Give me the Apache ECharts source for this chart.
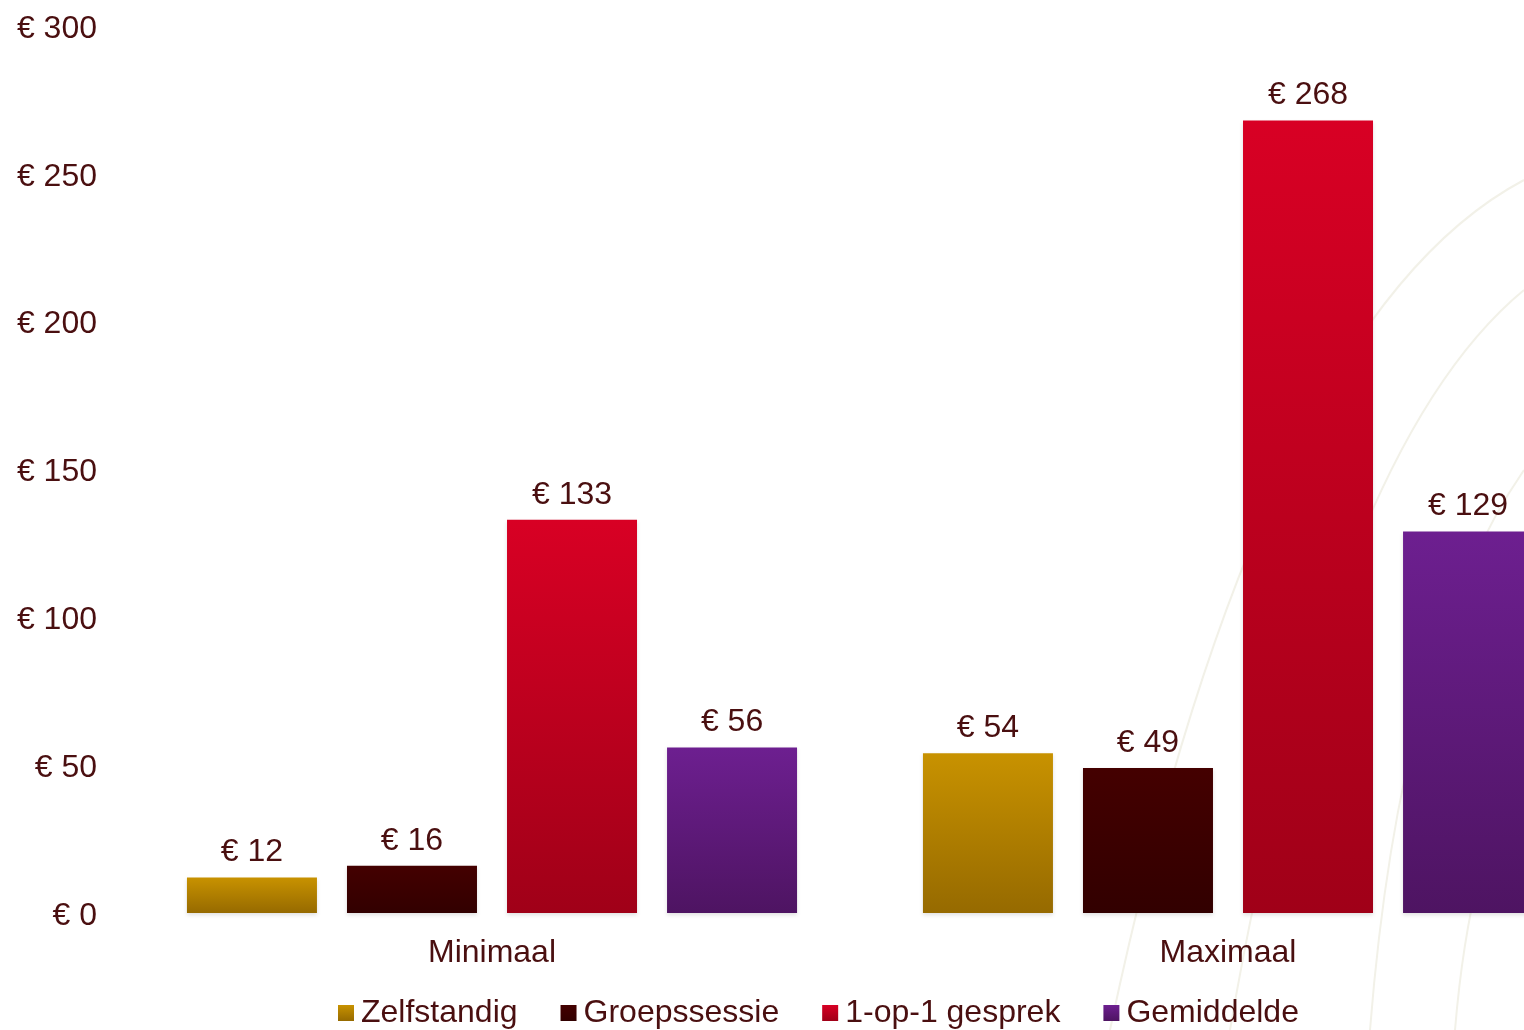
<!DOCTYPE html>
<html>
<head>
<meta charset="utf-8">
<script src="https://cdn.jsdelivr.net/npm/echarts@6/dist/echarts.min.js"></script>
<style>html,body{margin:0;padding:0;background:#fff;overflow:hidden;}#c{width:1600px;height:1030px;}</style>
</head>
<body>
<div id="c"></div>
<script>
const categories = ['Minimaal', 'Maximaal'];
const seriesNames = ['Zelfstandig', 'Groepssessie', '1-op-1 gesprek', 'Gemiddelde'];
const zelfstandig = [12, 54];
const groepssessie = [16, 49];
const eenOpEen = [133, 268];
const gemiddelde = [56, 129];
const yTicks = [0, 50, 100, 150, 200, 250, 300];

const textColor = '#4a0f10';
const font = 'Arial, "Liberation Sans", sans-serif';
function grad(top, bottom) {
  return new echarts.graphic.LinearGradient(0, 0, 0, 1, [{offset: 0, color: top}, {offset: 1, color: bottom}]);
}
const colors = [
  grad('#c89200', '#966a00'),
  grad('#440000', '#320000'),
  grad('#d80024', '#a00018'),
  grad('#6d1f90', '#4e1462')
];
const values = [zelfstandig, groepssessie, eenOpEen, gemiddelde];

const chart = echarts.init(document.getElementById('c'), null, {renderer: 'canvas'});
const arcStyle = {stroke: '#f2f1e8', lineWidth: 2, fill: null};
chart.setOption({
  backgroundColor: '#fff',
  animation: false,
  textStyle: {fontFamily: font},
  graphic: [
    {type: 'bezierCurve', z: -10, shape: {x1: 1524, y1: 180, cpx1: 1260, cpy1: 320, x2: 1110, y2: 1030}, style: arcStyle},
    {type: 'bezierCurve', z: -10, shape: {x1: 1524, y1: 290, cpx1: 1330, cpy1: 450, x2: 1230, y2: 1030}, style: arcStyle},
    {type: 'bezierCurve', z: -10, shape: {x1: 1524, y1: 470, cpx1: 1400, cpy1: 650, x2: 1370, y2: 1030}, style: arcStyle},
    {type: 'bezierCurve', z: -10, shape: {x1: 1524, y1: 760, cpx1: 1470, cpy1: 850, x2: 1455, y2: 1030}, style: arcStyle}
  ],
  legend: {
    left: 338,
    top: 997,
    padding: 0,
    itemWidth: 16,
    itemHeight: 16,
    itemGap: 43,
    icon: 'rect',
    textStyle: {color: textColor, fontSize: 32, fontFamily: font, padding: [0, 0, 0, 2]},
    data: seriesNames
  },
  grid: {left: 124, top: 26, width: 1472, height: 887, containLabel: false},
  xAxis: {
    type: 'category',
    data: categories,
    axisLine: {show: false},
    axisTick: {show: false},
    axisLabel: {color: textColor, fontSize: 32, fontFamily: font, margin: 24}
  },
  yAxis: {
    type: 'value',
    min: yTicks[0],
    max: yTicks[yTicks.length - 1],
    interval: 50,
    splitLine: {show: false},
    axisLine: {show: false},
    axisTick: {show: false},
    axisLabel: {
      color: textColor, fontSize: 32, fontFamily: font, margin: 27,
      formatter: v => '{a|€ ' + v + '}',
      rich: {a: {color: textColor, fontSize: 32, fontFamily: font, padding: [6, 0, 0, 0]}}
    }
  },
  series: seriesNames.map((name, i) => ({
    name: name,
    type: 'bar',
    data: values[i],
    barWidth: 130,
    barGap: '23.1%',
    itemStyle: {color: colors[i], shadowBlur: 4, shadowColor: 'rgba(0,0,0,0.12)', shadowOffsetY: 2},
    label: {
      show: true,
      position: 'top',
      distance: 9,
      color: textColor,
      fontSize: 32,
      fontFamily: font,
      formatter: p => '€ ' + p.value
    }
  }))
});
</script>
</body>
</html>
